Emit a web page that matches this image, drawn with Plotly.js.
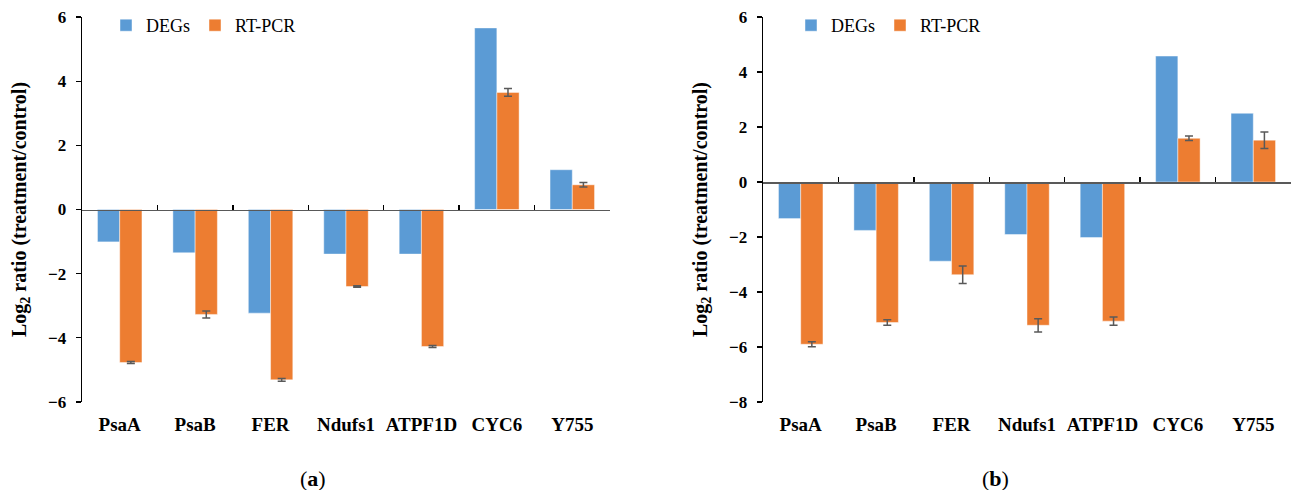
<!DOCTYPE html>
<html>
<head>
<meta charset="utf-8">
<script src="https://cdn.plot.ly/plotly-3.0.1.min.js"></script>
<style>html,body{margin:0;padding:0;background:#fff;}#chart{width:1293px;height:490px;}</style>
</head>
<body>
<div id="chart"></div>
<script>
// ---- Data ----
const genes = ['PsaA', 'PsaB', 'FER', 'Ndufs1', 'ATPF1D', 'CYC6', 'Y755'];

// Panel (a)
const degsA  = [-1.01, -1.35, -3.23, -1.39, -1.39, 5.66, 1.24];
const rtpcrA = [-4.77, -3.27, -5.31, -2.40, -4.27, 3.65, 0.77];
const rtpcrAErr = [0.03, 0.11, 0.04, 0.02, 0.03, 0.12, 0.07];

// Panel (b)
const degsB  = [-1.33, -1.76, -2.88, -1.91, -2.02, 4.58, 2.50];
const rtpcrB = [-5.90, -5.11, -3.37, -5.21, -5.06, 1.59, 1.52];
const rtpcrBErr = [0.09, 0.10, 0.32, 0.24, 0.15, 0.08, 0.30];

const seriesNames = ['DEGs', 'RT-PCR'];
const yTitle = 'Log<sub>2</sub> ratio (treatment/control)';
const panelLabels = ['(<b>a</b>)', '(<b>b</b>)'];

// ---- Styling ----
const W = 1293, H = 490;
const BLUE = '#5B9BD5', ORANGE = '#ED7D31';
const SERIF = 'Liberation Serif';
const yTickFont = {family: SERIF, size: 17, color: '#000', weight: 'bold'};
const xTickFont = {family: SERIF, size: 19, color: '#000', weight: 'bold'};
const barLine = {color: 'rgba(255,255,255,0.45)', width: 1};
const errStyle = (arr) => ({type: 'data', array: arr, visible: true, color: '#595959', thickness: 1.5, width: 4});

function panelTraces(xa, ya, xaLine, degs, rt, rtErr, legendId) {
  return [
    {type: 'bar', name: seriesNames[0], x: genes, y: degs, xaxis: xa, yaxis: ya,
     marker: {color: BLUE, line: barLine}, legend: legendId, hoverinfo: 'x+y+name'},
    {type: 'bar', name: seriesNames[1], x: genes, y: rt, xaxis: xa, yaxis: ya,
     marker: {color: ORANGE, line: barLine}, error_y: errStyle(rtErr), legend: legendId, hoverinfo: 'x+y+name'},
    // helper trace so the zero-level axis (category boundary ticks) gets the categories
    {type: 'scatter', mode: 'none', x: genes, y: genes.map(() => null), xaxis: xaLine, yaxis: ya,
     showlegend: false, hoverinfo: 'skip'}
  ];
}

const data = [].concat(
  panelTraces('x', 'y', 'x2', degsA, rtpcrA, rtpcrAErr, 'legend'),
  panelTraces('x3', 'y2', 'x4', degsB, rtpcrB, rtpcrBErr, 'legend2')
);

const domA = [82 / W, 610 / W];
const domB = [763 / W, 1291 / W];
const rangeA = [-6, 6];
const rangeB = [-8, 6];

function labelAxis(dom, anchor) {
  return {domain: dom, anchor: anchor, type: 'category', categoryarray: genes, categoryorder: 'array',
          range: [-0.5, genes.length - 0.5], showline: false, ticks: '', showgrid: false, zeroline: false,
          tickfont: xTickFont, ticklabelstandoff: 9, fixedrange: true};
}
function zeroAxis(over, yr) {
  return {overlaying: over, anchor: 'free', position: (0 - yr[0]) / (yr[1] - yr[0]),
          type: 'category', categoryarray: genes, categoryorder: 'array',
          range: [-0.5, genes.length - 0.5], showline: true, linecolor: '#595959', linewidth: 1.5,
          ticks: 'inside', tickson: 'boundaries', ticklen: 5, tickwidth: 1.3, tickcolor: '#000',
          showticklabels: false, showgrid: false, zeroline: false, fixedrange: true};
}
function valueAxis(yr, anchor) {
  return {domain: [0, 1], anchor: anchor, range: yr, dtick: 2, tick0: 0,
          showline: true, linecolor: '#000', linewidth: 1.3, ticks: 'outside', ticklen: 5, tickwidth: 1.3,
          tickcolor: '#000', showgrid: false, zeroline: false, tickfont: yTickFont, ticklabelstandoff: 6,
          title: {text: yTitle, font: {family: SERIF, size: 20, color: '#000', weight: 'bold'}, standoff: 16},
          fixedrange: true};
}

const legendBase = {orientation: 'h', xref: 'container', yref: 'container', xanchor: 'left', yanchor: 'top',
  font: {family: SERIF, size: 18, color: '#000'}, bgcolor: 'rgba(0,0,0,0)', borderwidth: 0,
  itemclick: false, itemdoubleclick: false};

const layout = {
  width: W, height: H,
  margin: {l: 0, r: 0, t: 17, b: 88, autoexpand: false},
  paper_bgcolor: '#fff', plot_bgcolor: '#fff',
  barmode: 'group', bargap: 0.41, bargroupgap: 0,
  showlegend: true,
  xaxis: labelAxis(domA, 'y'),
  xaxis2: zeroAxis('x', rangeA),
  yaxis: valueAxis(rangeA, 'x'),
  xaxis3: labelAxis(domB, 'y2'),
  xaxis4: zeroAxis('x3', rangeB),
  yaxis2: valueAxis(rangeB, 'x3'),
  legend: Object.assign({}, legendBase, {x: 106 / W, y: 1 - 7 / H}),
  legend2: Object.assign({}, legendBase, {x: 791 / W, y: 1 - 7 / H}),
  annotations: [
    {text: panelLabels[0], xref: 'paper', yref: 'paper', x: 313 / W, y: -(478 - 402) / 385,
     showarrow: false, xanchor: 'center', yanchor: 'middle', font: {family: SERIF, size: 22, color: '#000'}},
    {text: panelLabels[1], xref: 'paper', yref: 'paper', x: 995 / W, y: -(478 - 402) / 385,
     showarrow: false, xanchor: 'center', yanchor: 'middle', font: {family: SERIF, size: 22, color: '#000'}}
  ]
};

Plotly.newPlot('chart', data, layout, {displayModeBar: false, staticPlot: true});
</script>
</body>
</html>
